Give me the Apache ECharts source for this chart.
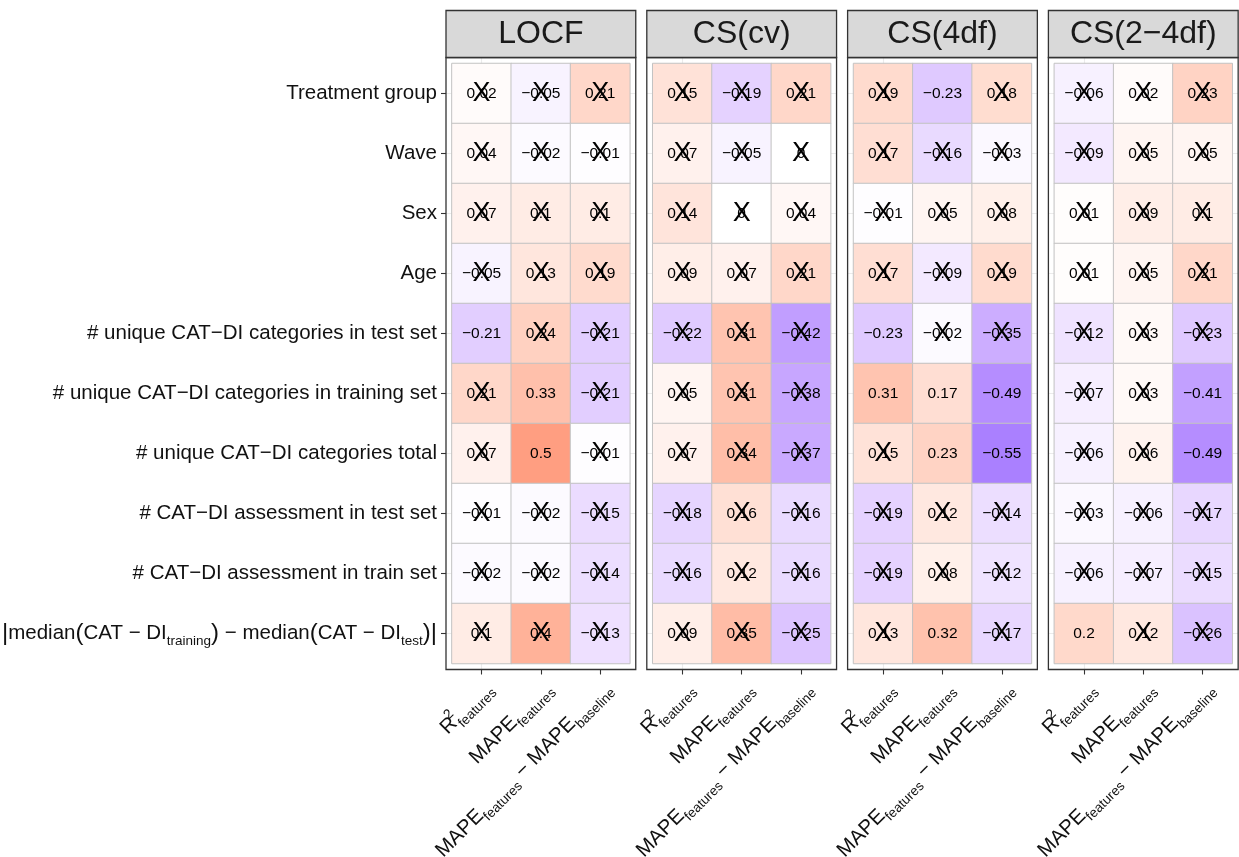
<!DOCTYPE html>
<html>
<head>
<meta charset="utf-8">
<script src="https://cdn.jsdelivr.net/npm/echarts@6/dist/echarts.min.js"></script>
<style>
  html, body { margin: 0; padding: 0; background: #ffffff; }
  #chart { width: 1239px; height: 857px; }
</style>
</head>
<body>
<div id="chart"></div>
<script>
// ---- data -------------------------------------------------------------
const methods = ['LOCF', 'CS(cv)', 'CS(4df)', 'CS(2\u22124df)'];
const metrics = ['R2 features', 'MAPE features', 'MAPE features - MAPE baseline'];
const features = [
  'Treatment group',
  'Wave',
  'Sex',
  'Age',
  '# unique CAT\u2212DI categories in test set',
  '# unique CAT\u2212DI categories in training set',
  '# unique CAT\u2212DI categories total',
  '# CAT\u2212DI assessment in test set',
  '# CAT\u2212DI assessment in train set',
  'abs median difference'
];

// correlations, one row per feature: [R2, MAPE, MAPE - baseline]
const corLOCF = [
  [0.02, -0.05, 0.21], [0.04, -0.02, -0.01], [0.07, 0.1, 0.1], [-0.05, 0.13, 0.19],
  [-0.21, 0.24, -0.21], [0.21, 0.33, -0.21], [0.07, 0.5, -0.01],
  [-0.01, -0.02, -0.15], [-0.02, -0.02, -0.14], [0.1, 0.4, -0.13]
];
const corCScv = [
  [0.15, -0.19, 0.21], [0.07, -0.05, 0], [0.14, 0, 0.04], [0.09, 0.07, 0.21],
  [-0.22, 0.31, -0.42], [0.05, 0.31, -0.38], [0.07, 0.34, -0.37],
  [-0.18, 0.16, -0.16], [-0.16, 0.12, -0.16], [0.09, 0.35, -0.25]
];
const corCS4df = [
  [0.19, -0.23, 0.18], [0.17, -0.16, -0.03], [-0.01, 0.05, 0.08], [0.17, -0.09, 0.19],
  [-0.23, -0.02, -0.35], [0.31, 0.17, -0.49], [0.15, 0.23, -0.55],
  [-0.19, 0.12, -0.14], [-0.19, 0.08, -0.12], [0.13, 0.32, -0.17]
];
const corCS24df = [
  [-0.06, 0.02, 0.23], [-0.09, 0.05, 0.05], [0.01, 0.09, 0.1], [0.01, 0.05, 0.21],
  [-0.12, 0.03, -0.23], [-0.07, 0.03, -0.41], [-0.06, 0.06, -0.49],
  [-0.03, -0.06, -0.17], [-0.06, -0.07, -0.15], [0.2, 0.12, -0.26]
];

// 1 = significant, 0 = crossed out
const sigLOCF = [
  [0, 0, 0], [0, 0, 0], [0, 0, 0], [0, 0, 0], [1, 0, 0],
  [0, 1, 0], [0, 1, 0], [0, 0, 0], [0, 0, 0], [0, 0, 0]
];
const sigCScv = [
  [0, 0, 0], [0, 0, 0], [0, 0, 0], [0, 0, 0], [0, 0, 0],
  [0, 0, 0], [0, 0, 0], [0, 0, 0], [0, 0, 0], [0, 0, 0]
];
const sigCS4df = [
  [0, 1, 0], [0, 0, 0], [0, 0, 0], [0, 0, 0], [1, 0, 0],
  [1, 1, 1], [0, 1, 1], [0, 0, 0], [0, 0, 0], [0, 1, 0]
];
const sigCS24df = [
  [0, 0, 0], [0, 0, 0], [0, 0, 0], [0, 0, 0], [0, 0, 0],
  [0, 0, 1], [0, 0, 1], [0, 0, 0], [0, 0, 0], [1, 0, 0]
];

const corByMethod = [corLOCF, corCScv, corCS4df, corCS24df];
const sigByMethod = [sigLOCF, sigCScv, sigCS4df, sigCS24df];

// ---- colour ramp: blue -> white -> red, interpolated in CIELAB ---------
function hexToRgb(h) {
  return [parseInt(h.slice(1, 3), 16), parseInt(h.slice(3, 5), 16), parseInt(h.slice(5, 7), 16)];
}
function toLinear(c) { c /= 255; return c <= 0.04045 ? c / 12.92 : Math.pow((c + 0.055) / 1.055, 2.4); }
function fromLinear(c) {
  c = c <= 0.0031308 ? 12.92 * c : 1.055 * Math.pow(c, 1 / 2.4) - 0.055;
  return Math.max(0, Math.min(255, Math.round(c * 255)));
}
const WN = [0.95047, 1, 1.08883];
function rgbToLab(rgb) {
  const [r, g, b] = rgb.map(toLinear);
  const xyz = [
    (0.4124 * r + 0.3576 * g + 0.1805 * b) / WN[0],
    (0.2126 * r + 0.7152 * g + 0.0722 * b) / WN[1],
    (0.0193 * r + 0.1192 * g + 0.9505 * b) / WN[2]
  ];
  const f = t => t > 0.008856 ? Math.cbrt(t) : 7.787 * t + 16 / 116;
  const [fx, fy, fz] = xyz.map(f);
  return [116 * fy - 16, 500 * (fx - fy), 200 * (fy - fz)];
}
function labToHex(lab) {
  const fy = (lab[0] + 16) / 116, fx = fy + lab[1] / 500, fz = fy - lab[2] / 200;
  const inv = t => t * t * t > 0.008856 ? t * t * t : (t - 16 / 116) / 7.787;
  const X = inv(fx) * WN[0], Y = inv(fy) * WN[1], Z = inv(fz) * WN[2];
  const r = 3.2406 * X - 1.5372 * Y - 0.4986 * Z;
  const g = -0.9689 * X + 1.8758 * Y + 0.0415 * Z;
  const b = 0.0557 * X - 0.2040 * Y + 1.0570 * Z;
  return '#' + [r, g, b].map(fromLinear).map(v => v.toString(16).padStart(2, '0')).join('');
}
const LAB_LOW = rgbToLab(hexToRgb('#0000ff'));
const LAB_MID = rgbToLab(hexToRgb('#ffffff'));
const LAB_HIGH = rgbToLab(hexToRgb('#ff0000'));
const ramp = [];
for (let k = 0; k <= 40; k++) {
  const t = -1 + k / 20;
  const end = t < 0 ? LAB_LOW : LAB_HIGH;
  const w = Math.abs(t);
  ramp.push(labToHex(LAB_MID.map((m, j) => m + (end[j] - m) * w)));
}

// ---- layout -----------------------------------------------------------
const FONT = '"Liberation Sans", Arial, Helvetica, sans-serif';
const PX0 = 446, PSTEP = 200.8, UX = 59.3, UY = 60;
const PTOP = 57.5, STRIP_TOP = 10.5;
const panelW = 3.2 * UX, panelH = 10.2 * UY;
const tileTop = PTOP + 0.1 * UY;

const subRich = {
  b: { fontSize: 20.5, fontFamily: FONT, color: '#111111', lineHeight: 30, verticalAlign: 'middle' },
  p: { fontSize: 24, fontFamily: FONT, color: '#111111', lineHeight: 30, verticalAlign: 'middle' },
  s: { fontSize: 13.5, fontFamily: FONT, color: '#111111', lineHeight: 11, verticalAlign: 'bottom' },
  sup: { fontSize: 14, fontFamily: FONT, color: '#111111', lineHeight: 14, verticalAlign: 'top', width: 1, align: 'left' }
};
const metricLabels = [
  '{b|R}{sup|2}{s|features}',
  '{b|MAPE}{s|features}',
  '{b|MAPE}{s|features}{b| \u2212 MAPE}{s|baseline}'
];
const medianLabel = '{p||}{b|median}{p|(}{b|CAT \u2212 DI}{s|training}{p|)}{b| \u2212 median}{p|(}{b|CAT \u2212 DI}{s|test}{p|)}{p||}';

const grids = [], xAxes = [], yAxes = [], series = [], graphics = [];
const heatIdx = [];

function addGrid(box) {
  grids.push(Object.assign({ outerBoundsMode: 'none', containLabel: false }, box));
  return grids.length - 1;
}

methods.forEach((name, i) => {
  const pLeft = PX0 + i * PSTEP;
  const tLeft = pLeft + 0.1 * UX;

  // vertical grid lines through column centres
  const gv = addGrid({ left: tLeft + 0.5 * UX, top: PTOP, width: 2 * UX, height: panelH });
  xAxes.push({
    type: 'category', gridIndex: gv, data: metrics, boundaryGap: false,
    axisLine: { show: false }, axisTick: { show: false }, axisLabel: { show: false },
    splitLine: { show: true, lineStyle: { color: '#ebebeb', width: 1.1 } }
  });
  yAxes.push({ type: 'value', gridIndex: gv, min: 0, max: 1, show: false });

  // horizontal grid lines through row centres
  const gh = addGrid({ left: pLeft, top: tileTop + 0.5 * UY, width: panelW, height: 9 * UY });
  xAxes.push({ type: 'value', gridIndex: gh, min: 0, max: 1, show: false });
  yAxes.push({
    type: 'category', gridIndex: gh, data: features, boundaryGap: false, inverse: true,
    axisLine: { show: false }, axisTick: { show: false }, axisLabel: { show: false },
    splitLine: { show: true, lineStyle: { color: '#ebebeb', width: 1.1 } }
  });

  // tiles
  const g = addGrid({ left: tLeft, top: tileTop, width: 3 * UX, height: 10 * UY });
  xAxes.push({
    type: 'category', gridIndex: g, data: metrics, position: 'bottom', offset: 0.1 * UY,
    axisLine: { show: false },
    axisTick: { show: true, alignWithLabel: true, length: 5, lineStyle: { color: '#333333', width: 1.1 } },
    axisLabel: {
      interval: 0, rotate: 45, margin: 8, padding: [22, 0, 0, 0],
      formatter: (v, idx) => metricLabels[idx],
      rich: subRich
    },
    splitLine: { show: false }
  });
  yAxes.push({
    type: 'category', gridIndex: g, data: features, inverse: true, offset: 0.1 * UX,
    axisLine: { show: false },
    axisTick: { show: i === 0, alignWithLabel: true, length: 5, lineStyle: { color: '#333333', width: 1.1 } },
    axisLabel: {
      show: i === 0, margin: 9, fontSize: 20.5, fontFamily: FONT, color: '#111111',
      formatter: (v, idx) => idx === features.length - 1 ? medianLabel : '{b|' + v + '}',
      rich: subRich
    },
    splitLine: { show: false }
  });

  const cor = corByMethod[i];
  const sig = sigByMethod[i];
  const cells = [];
  const crossed = [];
  cor.forEach((row, r) => row.forEach((v, c) => {
    cells.push([c, r, v]);
    if (!sig[r][c]) crossed.push([c, r, 0]);
  }));

  heatIdx.push(series.length);
  series.push({
    type: 'heatmap', name: name, xAxisIndex: g, yAxisIndex: g, data: cells,
    itemStyle: { borderColor: '#c2c2c2', borderWidth: 1 },
    label: {
      show: true, color: '#000000', fontSize: 15.5, fontFamily: FONT,
      formatter: p => (p.value[2] < 0 ? '\u2212' : '') + String(Math.abs(p.value[2]))
    },
    emphasis: { disabled: true }
  });
  series.push({
    type: 'heatmap', name: name + ' crossed', xAxisIndex: g, yAxisIndex: g, data: crossed,
    itemStyle: { color: 'rgba(0,0,0,0)', borderWidth: 0 },
    label: { show: true, formatter: 'X', color: '#000000', fontSize: 27, fontFamily: FONT },
    emphasis: { disabled: true }
  });

  // panel frame and facet strip
  graphics.push({
    type: 'rect', silent: true, z: 100,
    shape: { x: pLeft, y: PTOP, width: panelW, height: panelH },
    style: { fill: 'none', stroke: '#333333', lineWidth: 1.3 }
  });
  graphics.push({
    type: 'rect', silent: true, z: 100,
    shape: { x: pLeft, y: STRIP_TOP, width: panelW, height: PTOP - STRIP_TOP },
    style: { fill: '#d9d9d9', stroke: '#333333', lineWidth: 1.3 }
  });
  graphics.push({
    type: 'text', silent: true, z: 101,
    x: pLeft + panelW / 2, y: (STRIP_TOP + PTOP) / 2,
    style: {
      text: name, fill: '#1a1a1a', font: '32px ' + FONT,
      textAlign: 'center', textVerticalAlign: 'middle'
    }
  });
});

const chart = echarts.init(document.getElementById('chart'), null, { renderer: 'canvas' });
chart.setOption({
  animation: false,
  backgroundColor: '#ffffff',
  grid: grids,
  xAxis: xAxes,
  yAxis: yAxes,
  visualMap: {
    type: 'continuous', show: false, min: -1, max: 1, dimension: 2,
    seriesIndex: heatIdx, inRange: { color: ramp }
  },
  graphic: graphics,
  series: series
});
</script>
</body>
</html>
